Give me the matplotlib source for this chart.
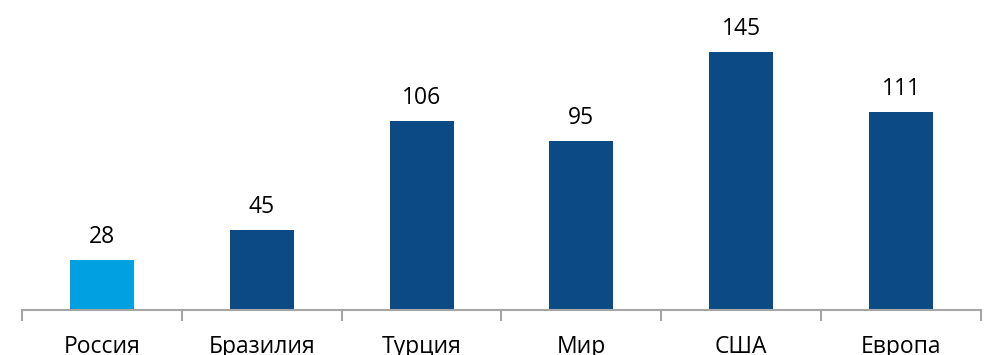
import matplotlib.pyplot as plt

categories = ['Россия', 'Бразилия', 'Турция', 'Мир', 'США', 'Европа']
values = [28, 45, 106, 95, 145, 111]
colors = ['#00A0E1', '#0B4A85', '#0B4A85', '#0B4A85', '#0B4A85', '#0B4A85']

plt.rcParams['font.family'] = ['Open Sans', 'DejaVu Sans']

fig = plt.figure(figsize=(9.84, 3.55), dpi=100)
ax = fig.add_axes([22 / 984, 45 / 355, 959 / 984, 310 / 355])

x = range(len(categories))
bars = ax.bar(x, values, width=0.4, color=colors)
for b, v in zip(bars, values):
    ax.annotate(str(v), (b.get_x() + b.get_width() / 2, v), xytext=(0, 8),
                textcoords='offset points', ha='center', va='bottom', fontsize=16.5)

ax.set_xlim(-0.5, len(categories) - 0.5)
ax.set_ylim(0, 174)
ax.set_yticks([])
for s in ['top', 'right', 'left']:
    ax.spines[s].set_visible(False)
ax.spines['bottom'].set_color('#A6A6A6')
ax.spines['bottom'].set_linewidth(1.5)

ax.set_xticks([i - 0.5 for i in range(len(categories) + 1)])
ax.set_xticklabels([])
ax.set_xticks(list(x), minor=True)
ax.set_xticklabels(categories, minor=True, fontsize=16.5)
ax.tick_params(axis='x', which='major', length=8, width=1.5, color='#A6A6A6', direction='out')
ax.tick_params(axis='x', which='minor', length=0, pad=18)

fig.savefig('out.png', dpi=100)
